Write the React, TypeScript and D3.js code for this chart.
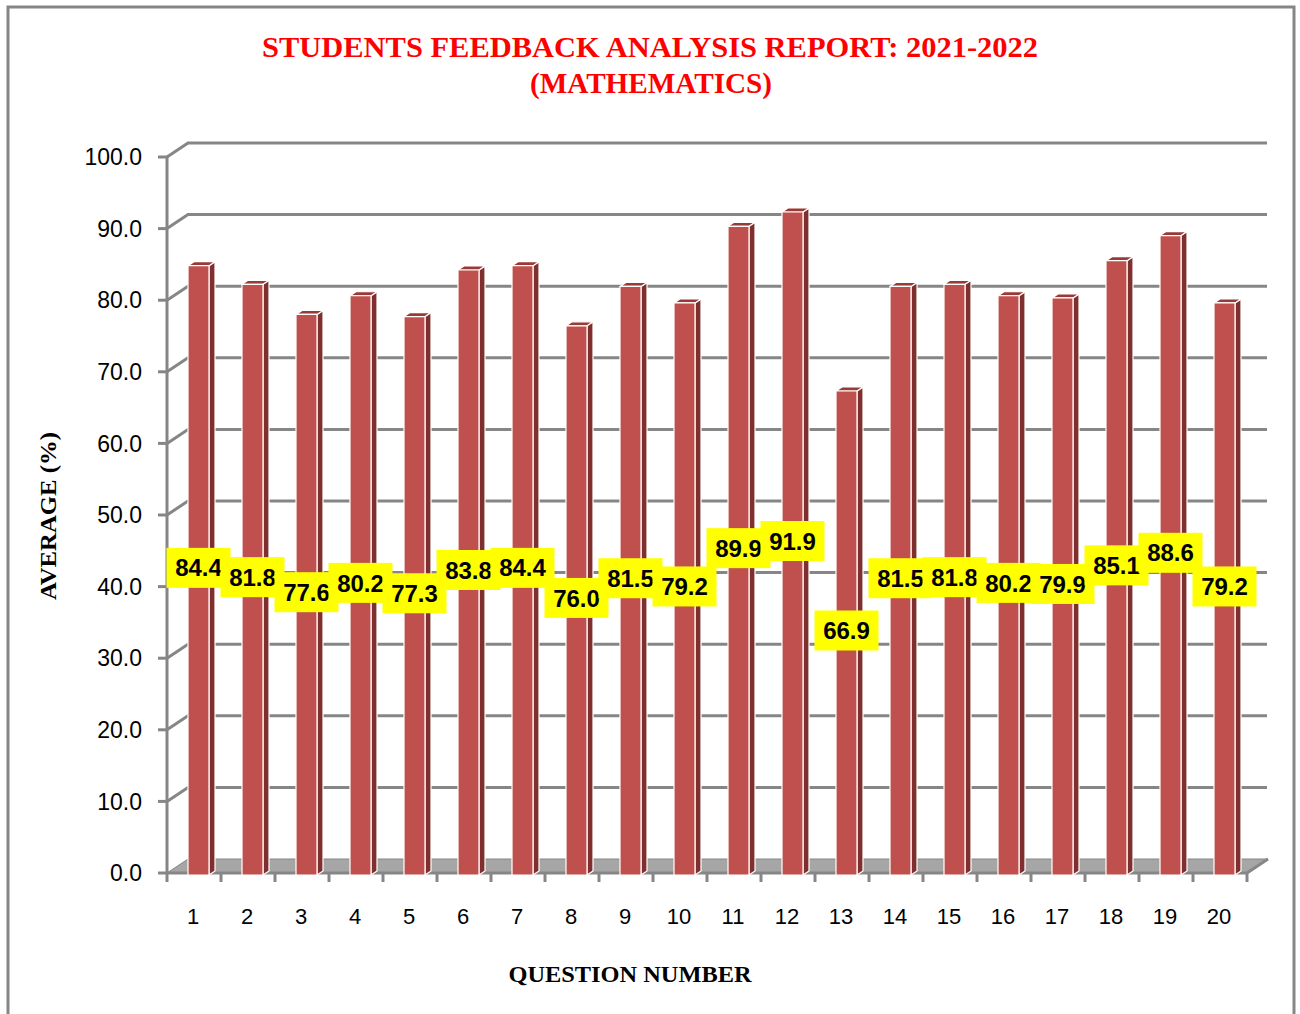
import React from 'react';
import * as d3 from 'd3';

const questions = ['1', '2', '3', '4', '5', '6', '7', '8', '9', '10', '11', '12', '13', '14', '15', '16', '17', '18', '19', '20'];
const averages = [84.4, 81.8, 77.6, 80.2, 77.3, 83.8, 84.4, 76.0, 81.5, 79.2, 89.9, 91.9, 66.9, 81.5, 81.8, 80.2, 79.9, 85.1, 88.6, 79.2];
const yTicks = [0, 10, 20, 30, 40, 50, 60, 70, 80, 90, 100];

const W = 1300;
const H = 1014;
const GRID = '#868686';
// 3D offset of the back wall
const DX = 21;
const DY = -14;
// bar sits a bit into the depth
const BX = 4.5;
const BY = -3;
const SIDE_X = 6;
const SIDE_Y = -4;

const App = () => {
    const x = d3.scaleBand().domain(questions).range([167, 1247]);
    const y = d3.scaleLinear().domain([0, 100]).range([873, 157]);
    const barW = 21;
    const x0 = x.range()[0];
    const x1 = x.range()[1];

    return (
        <svg width={W} height={H} style={{ position: 'absolute', left: 0, top: 0, background: '#fff' }}>
            <rect x={8} y={7} width={1286} height={1040} fill="#fff" stroke={GRID} strokeWidth={3} />

            {/* Title */}
            <text x={650} y={57} textAnchor="middle" fill="#ff0000" fontFamily="'Liberation Serif', serif" fontWeight="bold" fontSize={30} textLength={776} lengthAdjust="spacingAndGlyphs">
                STUDENTS FEEDBACK ANALYSIS REPORT: 2021-2022
            </text>
            <text x={651} y={93} textAnchor="middle" fill="#ff0000" fontFamily="'Liberation Serif', serif" fontWeight="bold" fontSize={30} textLength={242} lengthAdjust="spacingAndGlyphs">
                (MATHEMATICS)
            </text>

            {/* floor */}
            <polygon
                points={`${x0},${y(0)} ${x0 + DX},${y(0) + DY} ${x1 + DX},${y(0) + DY} ${x1},${y(0)}`}
                fill="#a6a6a6" stroke={GRID} strokeWidth={1} />

            {/* gridlines: side wall diagonal + back wall */}
            {yTicks.map(t => (
                <g key={t}>
                    {t > 0 && (
                        <polyline
                            points={`${x0},${y(t)} ${x0 + DX},${y(t) + DY} ${x1 + DX - 1},${y(t) + DY}`}
                            fill="none" stroke={GRID} strokeWidth={3} />
                    )}
                    <line x1={x0 - 9} x2={x0} y1={y(t)} y2={y(t)} stroke={GRID} strokeWidth={3} />
                    <text x={142} y={y(t)} dy="0.36em" textAnchor="end" fontFamily="'Liberation Sans', sans-serif" fontSize={23} fill="#000">
                        {t.toFixed(1)}
                    </text>
                </g>
            ))}
            <line x1={x1} y1={y(0)} x2={x1 + DX} y2={y(0) + DY} stroke={GRID} strokeWidth={3} />

            {/* axes */}
            <line x1={x0} x2={x0} y1={y(100) - 1} y2={y(0) + 1} stroke={GRID} strokeWidth={3} />
            <line x1={x0 - 1} x2={x1} y1={y(0)} y2={y(0)} stroke={GRID} strokeWidth={3} />
            {d3.range(questions.length + 1).map(i => (
                <line key={i} x1={x0 + i * x.bandwidth()} x2={x0 + i * x.bandwidth()} y1={y(0)} y2={y(0) + 9} stroke={GRID} strokeWidth={3} />
            ))}

            {/* bars */}
            {questions.map((q, i) => {
                const v = averages[i];
                const cx = (x(q) as number) + x.bandwidth() / 2 + BX;
                const left = cx - barW / 2;
                const right = cx + barW / 2;
                const top = y(v) + BY;
                const bottom = y(0) + 2;
                return (
                    <g key={q} stroke="#fff" strokeWidth={1.2} strokeLinejoin="round">
                        <polygon points={`${right},${top} ${right + SIDE_X},${top + SIDE_Y} ${right + SIDE_X},${bottom + SIDE_Y} ${right},${bottom}`} fill="#7f2f2d" />
                        <polygon points={`${left},${top} ${left + SIDE_X},${top + SIDE_Y} ${right + SIDE_X},${top + SIDE_Y} ${right},${top}`} fill="#993a37" />
                        <rect x={left} y={top} width={barW} height={bottom - top} fill="#c0504d" />
                    </g>
                );
            })}

            {/* x labels */}
            {questions.map(q => (
                <text key={q} x={(x(q) as number) + x.bandwidth() / 2 - 1} y={916} dy="0.36em" textAnchor="middle" fontFamily="'Liberation Sans', sans-serif" fontSize={22} fill="#000">
                    {q}
                </text>
            ))}

            {/* data labels */}
            {questions.map((q, i) => {
                const v = averages[i];
                const cx = (x(q) as number) + x.bandwidth() / 2 + BX;
                const cy = y(v / 2) + BY;
                return (
                    <g key={q}>
                        <rect x={cx - 32} y={cy - 20} width={64} height={40} fill="#ffff00" />
                        <text x={cx} y={cy} dy="0.36em" textAnchor="middle" fontFamily="'Liberation Sans', sans-serif" fontWeight="bold" fontSize={24} fill="#000">
                            {v.toFixed(1)}
                        </text>
                    </g>
                );
            })}

            {/* axis titles */}
            <text x={630} y={982} textAnchor="middle" fontFamily="'Liberation Serif', serif" fontWeight="bold" fontSize={24} textLength={243} lengthAdjust="spacingAndGlyphs" fill="#000">
                QUESTION NUMBER
            </text>
            <text transform="translate(56,516) rotate(-90)" textAnchor="middle" fontFamily="'Liberation Serif', serif" fontWeight="bold" fontSize={24} textLength={168} lengthAdjust="spacingAndGlyphs" fill="#000">
                AVERAGE (%)
            </text>
        </svg>
    );
};

export default App;
